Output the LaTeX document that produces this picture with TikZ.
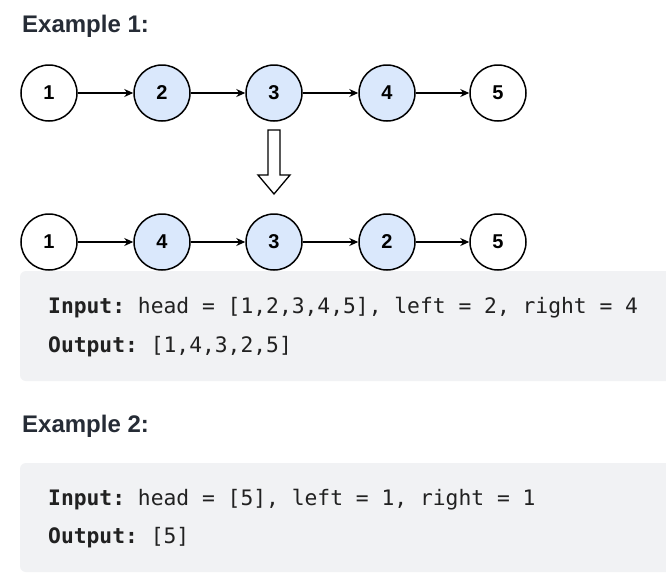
\documentclass[tikz,border=0pt]{standalone}
\usepackage{fontspec}
\setmainfont{Liberation Sans}
\newfontfamily\codefont{DejaVu Sans Mono}
\usetikzlibrary{arrows.meta}
\definecolor{headc}{RGB}{38,44,54}
\definecolor{codec}{RGB}{33,33,33}
\definecolor{boxc}{RGB}{241,242,244}
\definecolor{nodeblue}{RGB}{218,232,252}
\tikzset{
  lnode/.style={circle,draw=black,line width=1.5pt,minimum size=56pt,inner sep=0pt,
    font=\fontsize{20}{20}\selectfont\bfseries,fill=white},
  bnode/.style={lnode,fill=nodeblue},
  link/.style={line width=1.3pt,-{Stealth[length=9pt,width=8pt]}},
  heading/.style={anchor=base west,inner sep=0pt,text=headc,font=\fontsize{24}{24}\selectfont\bfseries},
  codeline/.style={anchor=base west,inner sep=0pt,text=codec,font=\codefont\fontsize{21.3}{21.3}\selectfont\frenchspacing},
  codebox/.style={fill=boxc,rounded corners=6pt},
  blockarrow/.style={draw=black,line width=1.3pt,fill=white,line join=miter}
}
\begin{document}
\begin{tikzpicture}[x=1pt,y=-1pt]
\clip (0,0) rectangle (666,582);
\fill[white] (0,0) rectangle (666,582);
% headings
\node[heading] (ex1) at (22,32) {Example 1:};
\node[heading] (ex2) at (22,432) {Example 2:};
% row 1
\node[lnode] (a1) at (49,93) {1};
\node[bnode] (a2) at (162,93) {2};
\node[bnode] (a3) at (274,93) {3};
\node[bnode] (a4) at (387,93) {4};
\node[lnode] (a5) at (498,93) {5};
\draw[link] (a1) -- (a2);
\draw[link] (a2) -- (a3);
\draw[link] (a3) -- (a4);
\draw[link] (a4) -- (a5);
% block arrow
\draw[blockarrow] (268,130) -- (280,130) -- (280,175) -- (290,175) -- (274,194) -- (258,175) -- (268,175) -- cycle;
% code boxes
\fill[codebox] (20,271) rectangle (680,381);
\fill[codebox] (20,463) rectangle (680,572);
% row 2
\node[lnode] (b1) at (49,242) {1};
\node[bnode] (b2) at (162,242) {4};
\node[bnode] (b3) at (274,242) {3};
\node[bnode] (b4) at (387,242) {2};
\node[lnode] (b5) at (498,242) {5};
\draw[link] (b1) -- (b2);
\draw[link] (b2) -- (b3);
\draw[link] (b3) -- (b4);
\draw[link] (b4) -- (b5);
% code text
\node[codeline] (in1) at (48,313) {\textbf{Input:} head = [1,2,3,4,5], left = 2, right = 4};
\node[codeline] (out1) at (48,352) {\textbf{Output:} [1,4,3,2,5]};
\node[codeline] (in2) at (48,505) {\textbf{Input:} head = [5], left = 1, right = 1};
\node[codeline] (out2) at (48,543) {\textbf{Output:} [5]};
\end{tikzpicture}
\end{document}
